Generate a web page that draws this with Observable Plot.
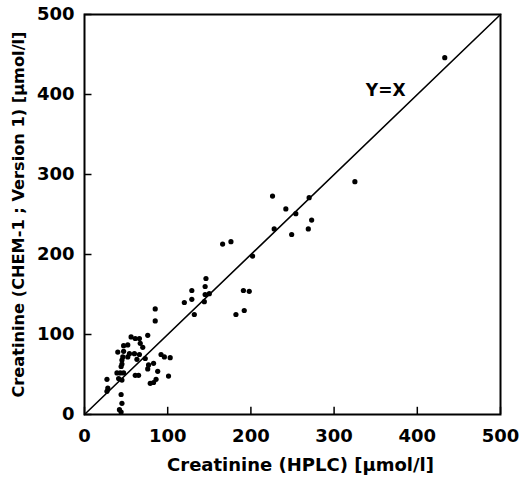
<!DOCTYPE html>
<html>
<head>
<meta charset="utf-8">
<script src="https://cdn.jsdelivr.net/npm/d3@7"></script>
<script src="https://cdn.jsdelivr.net/npm/@observablehq/plot@0.6"></script>
<style>
  body { margin: 0; background: #fff; }
</style>
</head>
<body>
<div id="chart"></div>
<script>
// Creatinine by HPLC (x) against CHEM-1, Version 1 (y), µmol/l
const hplc = [433, 325, 226, 270, 242, 254, 273, 269, 228, 249,
              176, 166, 202, 146, 145, 129, 150, 145, 129, 144,
              120, 191, 198, 192, 182, 132, 85, 85, 76, 56,
              61, 66, 47, 52, 67, 70, 40, 47, 54, 60,
              66, 46, 45, 52, 63, 73, 92, 96, 103, 83,
              77, 45, 44, 88, 76, 39, 43, 47, 61, 65,
              101, 41, 45, 86, 83, 79, 27, 28, 27, 44,
              45, 42, 44];
const chem = [446, 291, 273, 271, 257, 251, 243, 232, 232, 225,
              216, 213, 198, 170, 160, 155, 151, 150, 144, 141,
              140, 155, 154, 130, 125, 125, 132, 117, 99, 97,
              95, 95, 86, 87, 89, 84, 78, 79, 76, 76,
              75, 72, 68, 72, 69, 70, 75, 72, 71, 64,
              62, 63, 60, 54, 57, 52, 52, 52, 49, 49,
              48, 45, 43, 44, 40, 39, 44, 33, 29, 25,
              14, 6, 3];

const xTicks = [0, 100, 200, 300, 400, 500];
const yTicks = [0, 100, 200, 300, 400, 500];
const identityLine = [0, 500];
const lineLabel = {text: "Y=X", x: 362, y: 405};
const xTitle = "Creatinine (HPLC) [µmol/l]";
const yTitle = "Creatinine (CHEM-1 ; Version 1) [µmol/l]";

const samples = hplc.map((v, i) => ({hplc: v, chem: chem[i]}));
const font = "DejaVu Sans, Verdana, sans-serif";

const chart = Plot.plot({
  width: 524,
  height: 479,
  marginLeft: 84,
  marginRight: 24,
  marginTop: 14,
  marginBottom: 65,
  style: {fontFamily: font, fontWeight: "bold", fontSize: "18px", color: "black", background: "white"},
  x: {domain: [0, 500]},
  y: {domain: [0, 500]},
  marks: [
    Plot.axisX({ticks: xTicks, tickSize: 0, tickPadding: 15, label: null, fontSize: 18}),
    Plot.axisY({ticks: yTicks, tickSize: 0, tickPadding: 10, label: null, fontSize: 18}),
    // inward tick marks
    Plot.ruleX(xTicks, {x: d => d, y1: 0, y2: 9, stroke: "black", strokeWidth: 1.5}),
    Plot.ruleY(yTicks, {y: d => d, x1: 0, x2: 9, stroke: "black", strokeWidth: 1.5}),
    Plot.line(identityLine.map(v => ({x: v, y: v})), {x: "x", y: "y", stroke: "black", strokeWidth: 1.6}),
    Plot.dot(samples, {x: "hplc", y: "chem", r: 2.6, fill: "black", stroke: "none"}),
    Plot.text([lineLabel], {x: "x", y: "y", text: "text", fontSize: 17, fontWeight: "bold", fill: "black"}),
    Plot.text([xTitle], {frameAnchor: "bottom", dx: 8, dy: 56, text: d => d, textAnchor: "middle", fontSize: 18, fontWeight: "bold", fill: "black"}),
    Plot.text([yTitle], {frameAnchor: "left", dx: -66, rotate: -90, text: d => d, textAnchor: "middle", lineAnchor: "middle", fontSize: 16.2, fontWeight: "bold", fill: "black"}),
    Plot.frame({stroke: "black", strokeWidth: 2})
  ]
});

document.getElementById("chart").appendChild(chart);
</script>
</body>
</html>
